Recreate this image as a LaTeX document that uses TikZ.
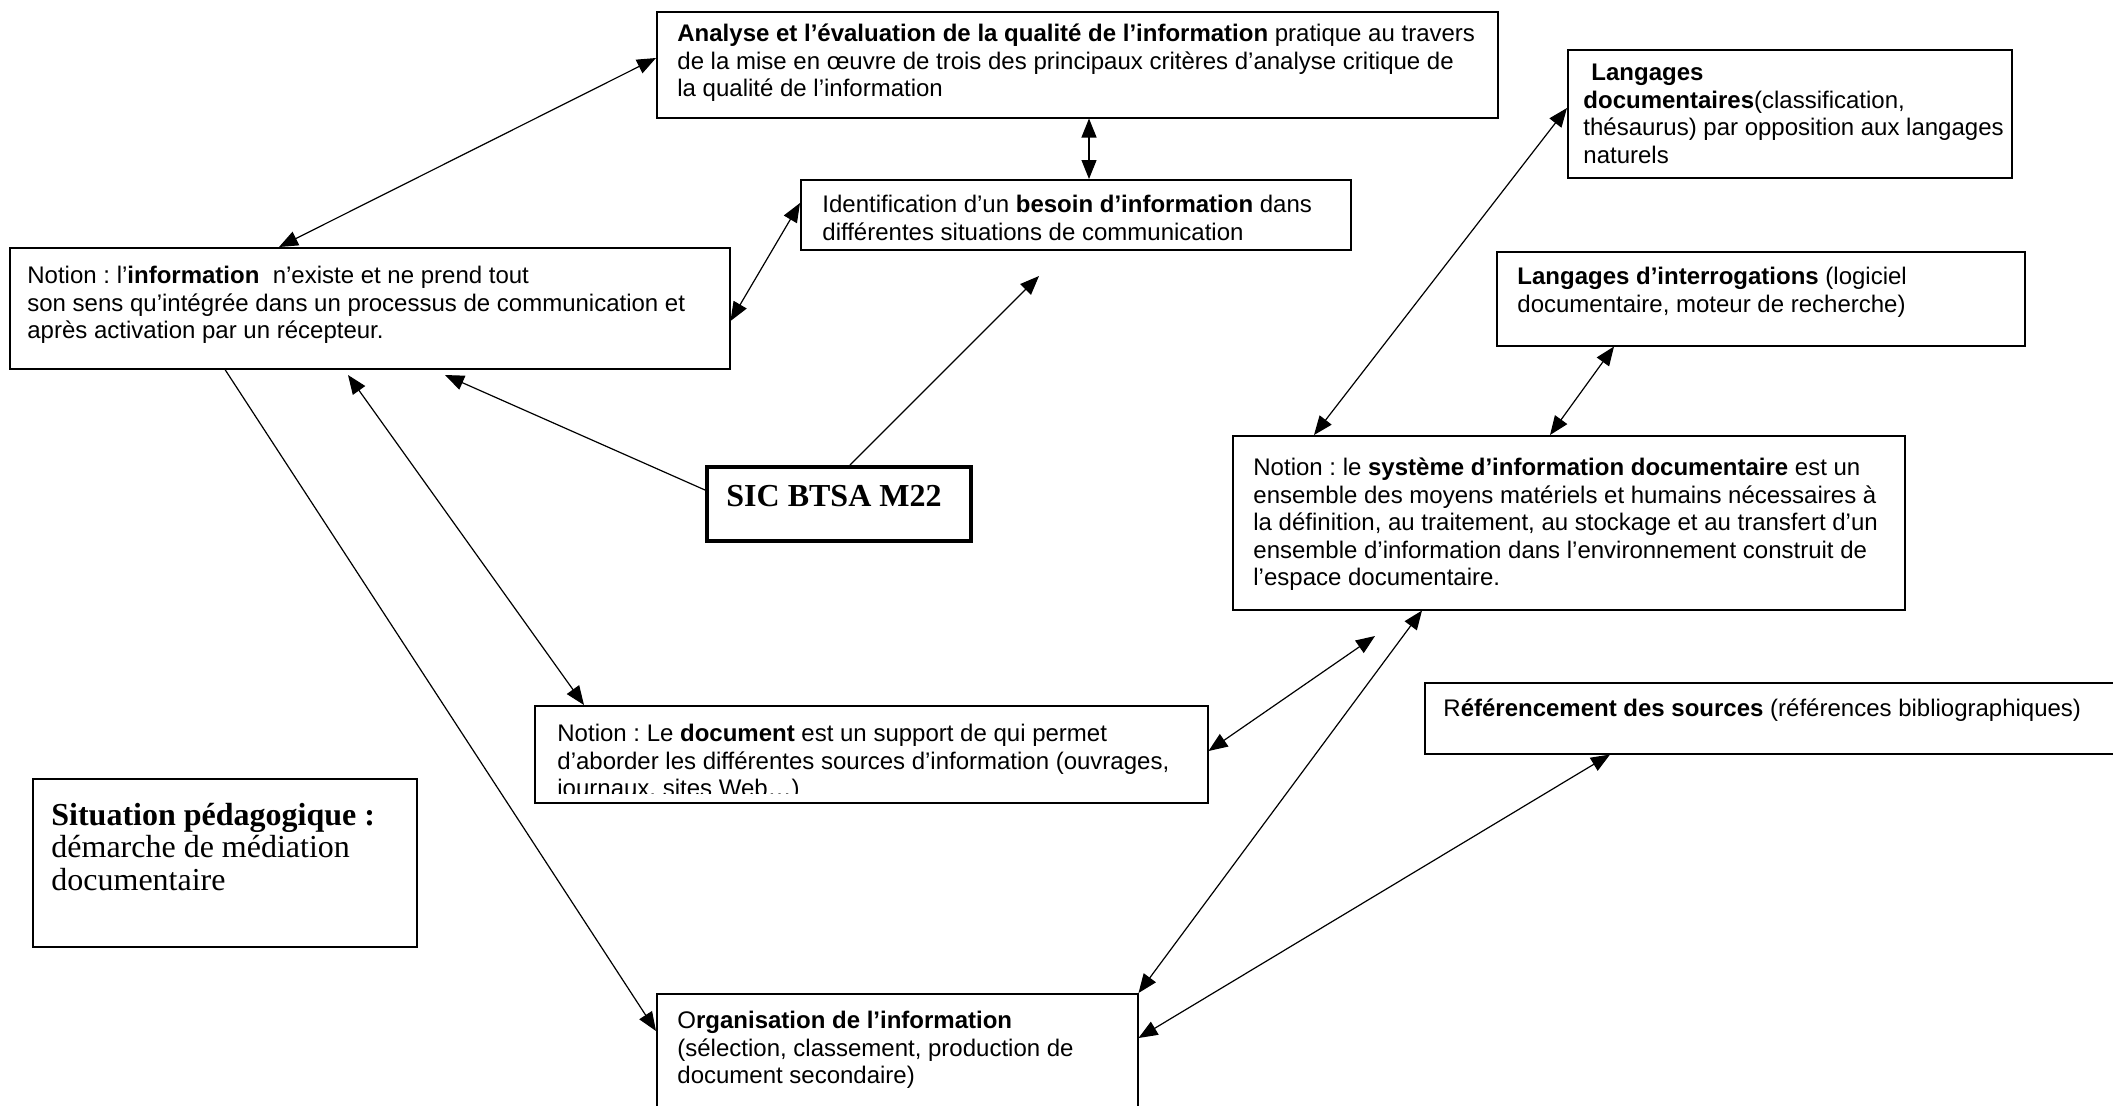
\documentclass[tikz,border=0pt]{standalone}
\usepackage{fontspec}
\setmainfont{Liberation Sans}
\newfontfamily\tms{Liberation Serif}
\usetikzlibrary{arrows.meta,calc}
\newcommand\firststrut{\rule{0pt}{10pt}}
\frenchspacing
\begin{document}
\frenchspacing
\begin{tikzpicture}[x=0.5pt,y=-0.5pt,
  box/.style={draw,line width=0.75pt,inner sep=0pt,anchor=north west},
  txt/.style={inner sep=0pt,anchor=north west,align=left,font=\fontsize{12}{13.8}\selectfont\frenchspacing},
  link/.style={line width=0.6pt,{Triangle[length=9.5pt,width=7.5pt]}-{Triangle[length=9.5pt,width=7.5pt]}},
  one/.style={line width=0.6pt,-{Triangle[length=9.5pt,width=7.5pt]}}]
\clip (0,0) rectangle (2113,1105);
\fill[white] (0,0) rectangle (2113,1105);

% boxes
\node[box,minimum width=420.5pt,minimum height=53pt] (nA) at (656,11) {};
\node[box,minimum width=275pt,minimum height=35pt] (nB) at (800,179) {};
\node[box,minimum width=360pt,minimum height=60.5pt] (nI) at (9,247) {};
\node[box,minimum width=222pt,minimum height=64pt] (nLD) at (1567,49) {};
\node[box,minimum width=264pt,minimum height=47pt] (nLI) at (1496,251) {};
\node[box,line width=2pt,minimum width=132pt,minimum height=37pt] (nS) at (705,465) {};
\node[box,minimum width=336pt,minimum height=87pt] (nSY) at (1232,435) {};
\node[box,minimum width=336.5pt,minimum height=48.5pt] (nD) at (534,705) {};
\node[box,minimum width=360pt,minimum height=35.5pt] (nR) at (1424,682) {};
\node[box,minimum width=192pt,minimum height=84pt] (nSI) at (32,778) {};
\node[box,minimum width=240.5pt,minimum height=70pt] (nO) at (656,993) {};

% texts
\node[txt] (tA) at (677,21) {\firststrut\textbf{Analyse et l’évaluation de la qualité de l’information} pratique au travers\\
de la mise en œuvre de trois des principaux critères d’analyse critique de\\
la qualité de l’information};
\node[txt] (tB) at (822,192) {\firststrut Identification d’un \textbf{besoin d’information} dans\\
différentes situations de communication};
\node[txt] (tI) at (27,263) {\firststrut Notion : l’\textbf{information}\ \ n’existe et ne prend tout\\
son sens qu’intégrée dans un processus de communication et\\
après activation par un récepteur.};
\node[txt] (tLD) at (1583,60) {\firststrut\hspace*{4pt}\textbf{Langages}\\
\textbf{documentaires}(classification,\\
thésaurus) par opposition aux langages\\
naturels};
\node[txt] (tLI) at (1517,264) {\firststrut\textbf{Langages d’interrogations} (logiciel\\
documentaire, moteur de recherche)};
\node[inner sep=0pt,anchor=base,font=\tms\bfseries\fontsize{16}{18}\selectfont] (tS) at (834,506) {SIC BTSA M22};
\node[txt] (tSY) at (1253,455) {\firststrut Notion : le \textbf{système d’information documentaire} est un\\
ensemble des moyens matériels et humains nécessaires à\\
la définition, au traitement, au stockage et au transfert d’un\\
ensemble d’information dans l’environnement construit de\\
l’espace documentaire.};
\begin{scope}
\clip (534,705) rectangle (1207,793);
\node[txt] (tD) at (557,721) {\firststrut Notion : Le \textbf{document} est un support de qui permet\\
d’aborder les différentes sources d’information (ouvrages,\\
journaux, sites Web…)};
\end{scope}
\node[txt] (tR) at (1443,696) {\firststrut R\textbf{éférencement des sources} (références bibliographiques)};
\node[txt,font=\tms\fontsize{16}{16.2}\selectfont] (tSI) at (51,801) {\rule{0pt}{12pt}\textbf{Situation pédagogique :}\\
démarche de médiation\\
documentaire};
\node[txt] (tO) at (677,1008) {\firststrut O\textbf{rganisation de l’information}\\
(sélection, classement, production de\\
document secondaire)};

% connectors
\coordinate (cD) at (1039,276);
\coordinate (cE) at (445,375);
\coordinate (cF) at (348,375);
\coordinate (cJ) at (1375,636);
\draw[link] ($(nI.north west)+(270,0)$) -- ($(nA.north west)+(0,47)$);
\draw[link] ($(nA.south west)+(433,0)$) -- ($(nB.north west)+(289,0)$);
\draw[link] ($(nB.north west)+(0,24)$) -- ($(nI.north east)+(0,74)$);
\draw[one] ($(nS.north west)+(145,0)$) -- (cD);
\draw[one] ($(nS.north west)+(0,25)$) -- (cE);
\draw[link] (cF) -- ($(nD.north west)+(50,0)$);
\draw[one] ($(nI.south west)+(216,0)$) -- ($(nO.north west)+(0,38)$);
\draw[link] ($(nSY.north west)+(82,0)$) -- ($(nLD.north west)+(0,59)$);
\draw[link] ($(nSY.north west)+(318,0)$) -- ($(nLI.south west)+(118,0)$);
\draw[link] ($(nD.north east)+(0,46)$) -- (cJ);
\draw[link] ($(nSY.south west)+(190,0)$) -- (nO.north east);
\draw[link] ($(nR.south west)+(186,0)$) -- ($(nO.north east)+(0,45)$);
\end{tikzpicture}
\end{document}
